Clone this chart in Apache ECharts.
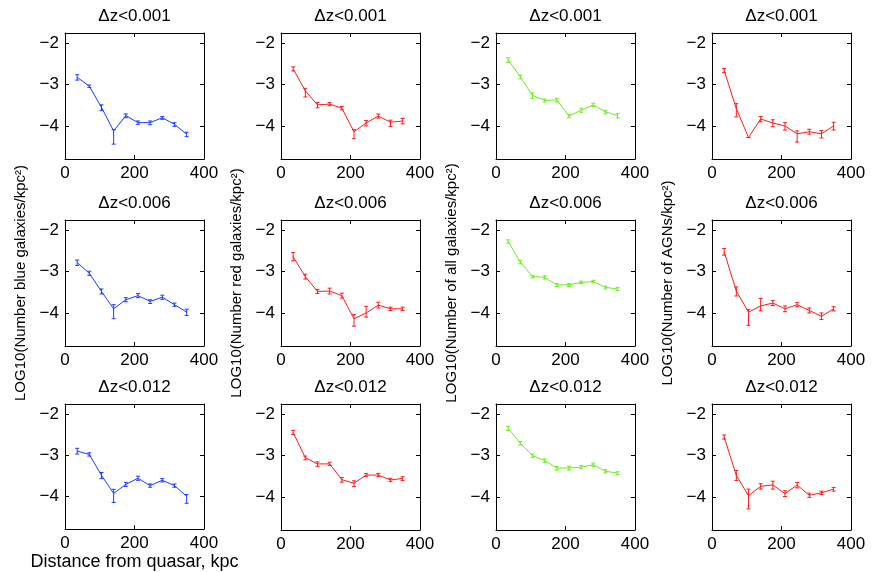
<!DOCTYPE html>
<html>
<head>
<meta charset="utf-8">
<script src="https://cdn.jsdelivr.net/npm/echarts@6/dist/echarts.min.js"></script>
<style>html,body{margin:0;padding:0;background:#fff}#c{width:872px;height:572px}</style>
</head>
<body>
<div id="c"></div>
<script>
// ---- data ----
const distances = [35, 70, 105, 140, 175, 210, 245, 280, 315, 350];
const xTicks = [0, 200, 400];
const yTicks = [-4, -3, -2];
const titles = ['\u0394z<0.001', '\u0394z<0.006', '\u0394z<0.012'];
const yNames = [
  'LOG10(Number blue galaxies/kpc\u00b2)',
  'LOG10(Number red galaxies/kpc\u00b2)',
  'LOG10(Number of all galaxies/kpc\u00b2)',
  'LOG10(Number of AGNs/kpc\u00b2)'
];
const xName = 'Distance from quasar, kpc';

// values (log10 density)
const blue001 = [-2.82, -3.04, -3.55, -4.12, -3.75, -3.92, -3.92, -3.80, -3.96, -4.20];
const red001 = [-2.62, -3.15, -3.49, -3.47, -3.57, -4.14, -3.93, -3.76, -3.91, -3.88];
const all001 = [-2.40, -2.81, -3.26, -3.38, -3.37, -3.76, -3.62, -3.49, -3.66, -3.75];
const agn001 = [-2.66, -3.58, -4.28, -3.83, -3.93, -4.00, -4.19, -4.14, -4.19, -4.00];
const blue006 = [-2.78, -3.04, -3.48, -3.90, -3.68, -3.58, -3.72, -3.62, -3.80, -3.98];
const red006 = [-2.64, -3.12, -3.48, -3.47, -3.58, -4.14, -4.00, -3.81, -3.90, -3.90];
const all006 = [-2.27, -2.77, -3.12, -3.14, -3.32, -3.32, -3.26, -3.24, -3.38, -3.42];
const agn006 = [-2.52, -3.47, -3.98, -3.83, -3.76, -3.90, -3.80, -3.94, -4.08, -3.90];
const blue012 = [-2.90, -2.98, -3.49, -3.93, -3.71, -3.56, -3.74, -3.61, -3.74, -4.00];
const red012 = [-2.44, -3.05, -3.20, -3.20, -3.58, -3.67, -3.47, -3.47, -3.59, -3.55];
const all012 = [-2.34, -2.70, -3.00, -3.12, -3.30, -3.30, -3.28, -3.22, -3.38, -3.42];
const agn012 = [-2.55, -3.48, -3.97, -3.74, -3.71, -3.92, -3.71, -3.96, -3.90, -3.81];

// errors as [down, up]
const blue001Err = [[0.07,0.06],[0.03,0.03],[0.08,0.06],[0.32,0.03],[0.05,0.04],[0.04,0.04],[0.05,0.04],[0.04,0.03],[0.05,0.04],[0.06,0.05]];
const red001Err = [[0.05,0.05],[0.15,0.06],[0.07,0.06],[0.04,0.04],[0.04,0.04],[0.17,0.05],[0.07,0.06],[0.05,0.05],[0.10,0.05],[0.07,0.06]];
const all001Err = [[0.06,0.05],[0.05,0.04],[0.07,0.06],[0.04,0.03],[0.05,0.04],[0.04,0.04],[0.05,0.05],[0.04,0.04],[0.05,0.04],[0.06,0.05]];
const agn001Err = [[0.05,0.05],[0.20,0.12],[0,0],[0.07,0.06],[0.09,0.08],[0.10,0.08],[0.20,0.07],[0.06,0.06],[0.10,0.08],[0.10,0.09]];
const blue006Err = [[0.07,0.06],[0.05,0.05],[0.06,0.06],[0.24,0.10],[0.05,0.05],[0.05,0.05],[0.05,0.04],[0.05,0.05],[0.04,0.04],[0.08,0.07]];
const red006Err = [[0.10,0.10],[0.06,0.06],[0.05,0.05],[0.07,0.07],[0.06,0.06],[0.18,0.10],[0.10,0.16],[0.07,0.07],[0.04,0.04],[0.04,0.04]];
const all006Err = [[0.04,0.04],[0.04,0.04],[0.03,0.03],[0.04,0.04],[0.04,0.03],[0.04,0.03],[0.03,0.03],[0.03,0.03],[0.04,0.03],[0.04,0.04]];
const agn006Err = [[0.08,0.08],[0.12,0.10],[0.32,0.06],[0.12,0.18],[0.06,0.06],[0.07,0.07],[0.05,0.05],[0.06,0.06],[0.08,0.08],[0.05,0.05]];
const blue012Err = [[0.07,0.07],[0.04,0.04],[0.08,0.07],[0.22,0.10],[0.05,0.05],[0.05,0.05],[0.04,0.04],[0.04,0.04],[0.04,0.04],[0.17,0.04]];
const red012Err = [[0.05,0.05],[0.05,0.04],[0.06,0.05],[0.04,0.04],[0.06,0.05],[0.08,0.06],[0.04,0.04],[0.04,0.04],[0.04,0.04],[0.05,0.04]];
const all012Err = [[0.05,0.05],[0.04,0.04],[0.04,0.04],[0.05,0.04],[0.05,0.04],[0.05,0.04],[0.04,0.04],[0.04,0.04],[0.04,0.04],[0.04,0.03]];
const agn012Err = [[0.05,0.05],[0.12,0.12],[0.32,0.16],[0.07,0.06],[0.10,0.09],[0.07,0.07],[0.07,0.06],[0.05,0.05],[0.04,0.04],[0.05,0.04]];

const panels = [
  [blue001, blue001Err], [red001, red001Err], [all001, all001Err], [agn001, agn001Err],
  [blue006, blue006Err], [red006, red006Err], [all006, all006Err], [agn006, agn006Err],
  [blue012, blue012Err], [red012, red012Err], [all012, all012Err], [agn012, agn012Err]
];

// ---- layout / style ----
const colColors = ['#1a3cff', '#ff1a1a', '#6cee1c', '#ff1a1a'];
const colLeft = [65, 281, 496, 712];
const rowTop = [33, 220, 404];
const gw = 139, gh = 126;
const yNameGap = [37, 37, 37, 37];
const FONT = 'Liberation Sans, Arial, Helvetica, sans-serif';

const grids = [], xAxes = [], yAxes = [], series = [], titleArr = [];
const fmtMinus = v => String(v).replace('-', '\u2212');

for (let r = 0; r < 3; r++) {
  for (let c = 0; c < 4; c++) {
    const i = r * 4 + c;
    grids.push({left: colLeft[c], top: rowTop[r], width: gw, height: gh, show: false});
    titleArr.push({
      text: titles[r], left: colLeft[c] + gw / 2, top: rowTop[r] - 25, textAlign: 'center', padding: 0,
      textStyle: {fontFamily: FONT, fontSize: 17, fontWeight: 'normal', color: '#000'}
    });
    const axLine = {show: true, onZero: false, lineStyle: {color: '#000', width: 1}};
    const tick = {inside: true, length: 4, lineStyle: {color: '#000', width: 1}};
    const xb = {
      type: 'value', gridIndex: i, position: 'bottom', min: 0, max: 400, interval: 200,
      axisLine: axLine, axisTick: tick, splitLine: {show: false},
      axisLabel: {fontFamily: FONT, fontSize: 17, color: '#000', margin: 6}
    };
    if (r === 2 && c === 0) {
      xb.name = xName; xb.nameLocation = 'middle'; xb.nameGap = 21;
      xb.nameTextStyle = {fontFamily: FONT, fontSize: 18, color: '#000'};
    }
    xAxes.push(xb);
    xAxes.push({
      type: 'value', gridIndex: i, position: 'top', min: 0, max: 400, interval: 200,
      axisLine: axLine, axisTick: tick, splitLine: {show: false}, axisLabel: {show: false}
    });
    const yl = {
      type: 'value', gridIndex: i, position: 'left', min: -4.8, max: -1.75,
      axisLine: axLine, splitLine: {show: false},
      axisTick: Object.assign({customValues: yTicks}, tick),
      axisLabel: {customValues: yTicks, formatter: fmtMinus, fontFamily: FONT, fontSize: 17, color: '#000', margin: 6}
    };
    if (r === 1) {
      yl.name = yNames[c]; yl.nameLocation = 'middle'; yl.nameGap = yNameGap[c];
      yl.nameTextStyle = {fontFamily: FONT, fontSize: 15, color: '#000'};
    }
    yAxes.push(yl);
    yAxes.push({
      type: 'value', gridIndex: i, position: 'right', min: -4.8, max: -1.75,
      axisLine: axLine, splitLine: {show: false},
      axisTick: Object.assign({customValues: yTicks}, tick),
      axisLabel: {show: false}
    });

    const vals = panels[i][0], errs = panels[i][1];
    const color = colColors[c];
    series.push({
      type: 'line', xAxisIndex: 2 * i, yAxisIndex: 2 * i,
      data: distances.map((d, k) => [d, vals[k]]),
      showSymbol: false, symbol: 'none', silent: true, animation: false,
      lineStyle: {color: color, width: 1}
    });
    series.push({
      type: 'custom', xAxisIndex: 2 * i, yAxisIndex: 2 * i, silent: true, animation: false,
      data: distances.map((d, k) => [d, vals[k] - errs[k][0], vals[k] + errs[k][1]]),
      encode: {x: 0, y: [1, 2]},
      renderItem: (function (col) {
        return function (params, api) {
          const x = api.value(0);
          const pLo = api.coord([x, api.value(1)]);
          const pHi = api.coord([x, api.value(2)]);
          const w = 2;
          const st = {stroke: col, lineWidth: 1};
          return {type: 'group', children: [
            {type: 'line', shape: {x1: pLo[0], y1: pLo[1], x2: pHi[0], y2: pHi[1]}, style: st},
            {type: 'line', shape: {x1: pLo[0] - w, y1: pLo[1], x2: pLo[0] + w, y2: pLo[1]}, style: st},
            {type: 'line', shape: {x1: pHi[0] - w, y1: pHi[1], x2: pHi[0] + w, y2: pHi[1]}, style: st}
          ]};
        };
      })(color)
    });
  }
}

const chart = echarts.init(document.getElementById('c'), null, {renderer: 'canvas'});
chart.setOption({
  animation: false,
  backgroundColor: '#fff',
  title: titleArr,
  grid: grids,
  xAxis: xAxes,
  yAxis: yAxes,
  series: series
});
</script>
</body>
</html>
